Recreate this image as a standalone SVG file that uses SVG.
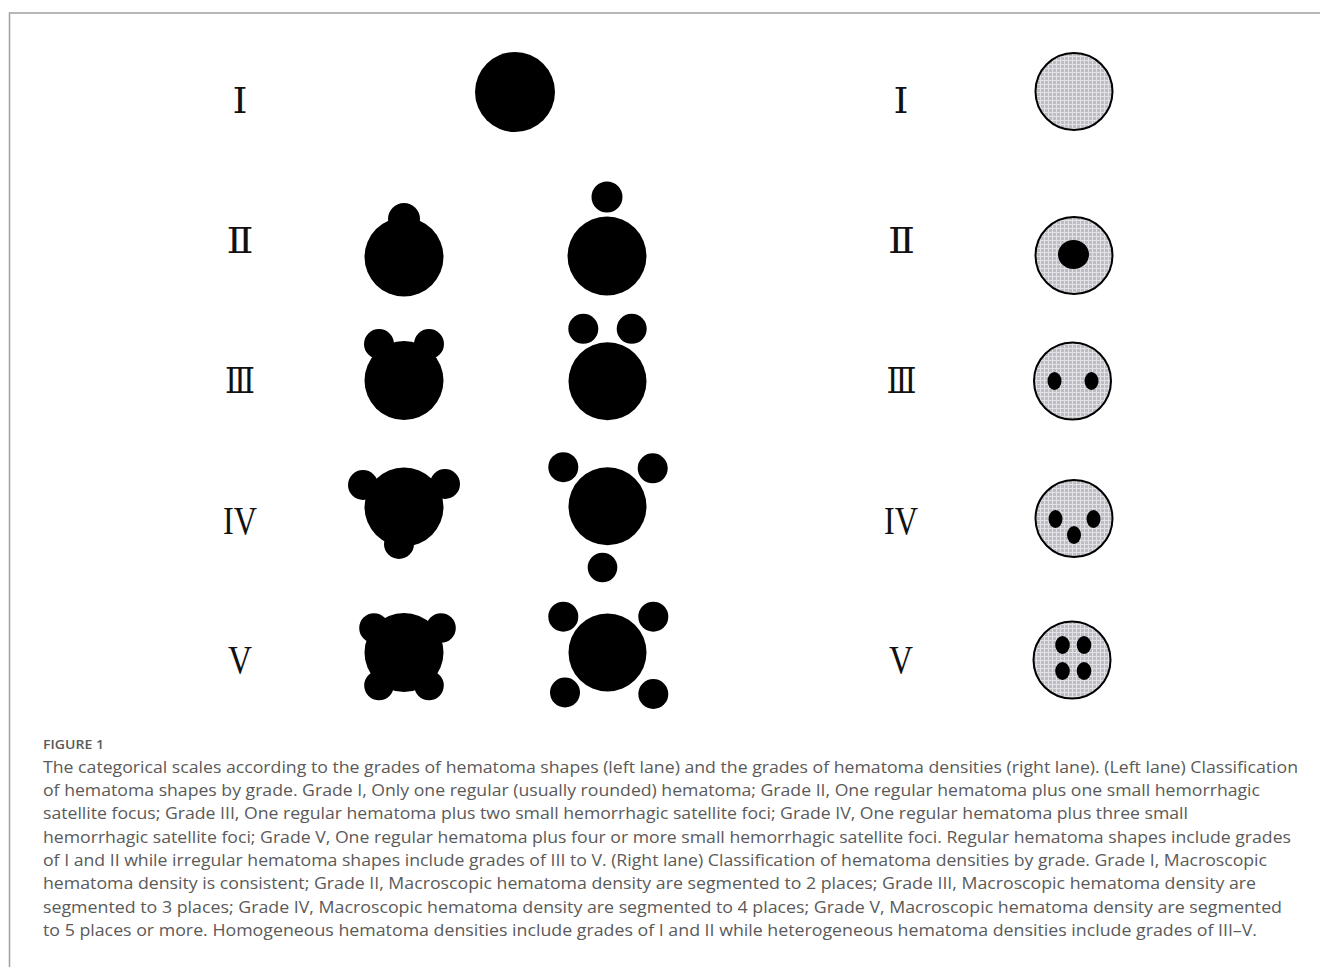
<svg xmlns="http://www.w3.org/2000/svg" width="1320" height="967" viewBox="0 0 1320 967">
  <defs>
    <pattern id="grid" width="4" height="4" patternUnits="userSpaceOnUse">
      <rect width="4" height="4" fill="#bdbdc3"/>
      <path d="M0 0.5H4M0.5 0V4" stroke="#e2e2e6" stroke-width="1"/>
    </pattern>
  </defs>
  <style>
    .num { font-family: "DejaVu Serif", "Liberation Serif", serif; font-size: 36px; fill: #111; text-anchor: middle; }
    .numL { font-family: "Liberation Serif", serif; font-size: 39px; fill: #111; text-anchor: middle; }
    .blob { fill: #000; }
    .dens { fill: url(#grid); stroke: #000; stroke-width: 2; }
    .dot { fill: #000; }
    .cap { font-family: "Open Sans", "Liberation Sans", sans-serif; font-size: 16px; fill: #5a5a5a; }
    .fig { font-family: "Open Sans", "Liberation Sans", sans-serif; font-size: 13px; font-weight: 600; fill: #5a5a5a; }
    .frame { fill: none; stroke: #a0a0a0; stroke-width: 1.5; }
  </style>
  <rect width="1320" height="967" fill="#fff"/>
  <path class="frame" d="M9.5 967V13H1320"/>

  <g id="labels-left">
    <text class="num" x="240" y="113" textLength="15" lengthAdjust="spacingAndGlyphs">Ⅰ</text>
    <text class="num" x="240" y="253" textLength="27" lengthAdjust="spacingAndGlyphs">Ⅱ</text>
    <text class="num" x="240" y="393" textLength="30" lengthAdjust="spacingAndGlyphs">Ⅲ</text>
    <text class="numL" x="240" y="534" textLength="34" lengthAdjust="spacingAndGlyphs">IV</text>
    <text class="numL" x="240" y="673" textLength="24" lengthAdjust="spacingAndGlyphs">V</text>
  </g>

  <g id="shape-grade-1">
    <circle class="blob" cx="515" cy="92" r="40"/>
  </g>
  <g id="shape-grade-2">
    <circle class="blob" cx="404" cy="257" r="39.5"/>
    <circle class="blob" cx="404" cy="219" r="16"/>
    <circle class="blob" cx="607" cy="256" r="39.5"/>
    <circle class="blob" cx="607" cy="197" r="15.5"/>
  </g>
  <g id="shape-grade-3">
    <circle class="blob" cx="404" cy="380.5" r="39.5"/>
    <circle class="blob" cx="379" cy="344" r="15"/>
    <circle class="blob" cx="429" cy="344" r="15"/>
    <circle class="blob" cx="607.5" cy="381.3" r="39"/>
    <circle class="blob" cx="583.3" cy="328.8" r="15"/>
    <circle class="blob" cx="631.7" cy="328.8" r="15"/>
  </g>
  <g id="shape-grade-4">
    <circle class="blob" cx="404" cy="507" r="39.5"/>
    <circle class="blob" cx="363" cy="485" r="15"/>
    <circle class="blob" cx="445" cy="484" r="15"/>
    <circle class="blob" cx="399" cy="544" r="15"/>
    <circle class="blob" cx="607.5" cy="506.3" r="39"/>
    <circle class="blob" cx="563.3" cy="467.2" r="15"/>
    <circle class="blob" cx="652.7" cy="468.3" r="15"/>
    <circle class="blob" cx="602.5" cy="567.5" r="14.8"/>
  </g>
  <g id="shape-grade-5">
    <circle class="blob" cx="404" cy="652.5" r="39.5"/>
    <circle class="blob" cx="374" cy="628" r="14.8"/>
    <circle class="blob" cx="441" cy="628" r="14.8"/>
    <circle class="blob" cx="379" cy="685.5" r="14.8"/>
    <circle class="blob" cx="429" cy="685.5" r="14.8"/>
    <circle class="blob" cx="607.5" cy="652.5" r="39"/>
    <circle class="blob" cx="563.3" cy="616.7" r="15"/>
    <circle class="blob" cx="653.3" cy="616.7" r="15"/>
    <circle class="blob" cx="565" cy="692.5" r="15"/>
    <circle class="blob" cx="653.3" cy="694" r="15"/>
  </g>

  <g id="labels-right">
    <text class="num" x="901" y="113" textLength="15" lengthAdjust="spacingAndGlyphs">Ⅰ</text>
    <text class="num" x="901.5" y="253" textLength="27" lengthAdjust="spacingAndGlyphs">Ⅱ</text>
    <text class="num" x="901.5" y="393" textLength="30" lengthAdjust="spacingAndGlyphs">Ⅲ</text>
    <text class="numL" x="901" y="534" textLength="34" lengthAdjust="spacingAndGlyphs">IV</text>
    <text class="numL" x="901" y="673" textLength="24" lengthAdjust="spacingAndGlyphs">V</text>
  </g>

  <g id="density-grade-1">
    <circle class="dens" cx="1074" cy="91.5" r="38.5"/>
  </g>
  <g id="density-grade-2">
    <circle class="dens" cx="1074" cy="255.5" r="38.5"/>
    <ellipse class="dot" cx="1073.5" cy="254.5" rx="15.5" ry="14.5"/>
  </g>
  <g id="density-grade-3">
    <circle class="dens" cx="1072.5" cy="381" r="38.5"/>
    <ellipse class="dot" cx="1054.5" cy="381" rx="7" ry="9"/>
    <ellipse class="dot" cx="1091.5" cy="381" rx="7" ry="9"/>
  </g>
  <g id="density-grade-4">
    <circle class="dens" cx="1074" cy="518.5" r="38.5"/>
    <ellipse class="dot" cx="1055.5" cy="519" rx="7" ry="9"/>
    <ellipse class="dot" cx="1093.5" cy="519" rx="7" ry="9"/>
    <ellipse class="dot" cx="1074" cy="535" rx="7" ry="9"/>
  </g>
  <g id="density-grade-5">
    <circle class="dens" cx="1072" cy="660" r="38.5"/>
    <ellipse class="dot" cx="1062.5" cy="645" rx="7.3" ry="9"/>
    <ellipse class="dot" cx="1084" cy="645" rx="7.3" ry="9"/>
    <ellipse class="dot" cx="1062.5" cy="671" rx="7.3" ry="9"/>
    <ellipse class="dot" cx="1084" cy="671" rx="7.3" ry="9"/>
  </g>

  <g id="caption">
    <text class="fig" x="43" y="749" textLength="61" lengthAdjust="spacingAndGlyphs">FIGURE 1</text>
    <text class="cap" x="43" y="772.7" textLength="1255" lengthAdjust="spacingAndGlyphs">The categorical scales according to the grades of hematoma shapes (left lane) and the grades of hematoma densities (right lane). (Left lane) Classification</text>
    <text class="cap" x="43" y="796" textLength="1217" lengthAdjust="spacingAndGlyphs">of hematoma shapes by grade. Grade I, Only one regular (usually rounded) hematoma; Grade II, One regular hematoma plus one small hemorrhagic</text>
    <text class="cap" x="43" y="819.3" textLength="1145" lengthAdjust="spacingAndGlyphs">satellite focus; Grade III, One regular hematoma plus two small hemorrhagic satellite foci; Grade IV, One regular hematoma plus three small</text>
    <text class="cap" x="43" y="842.7" textLength="1248" lengthAdjust="spacingAndGlyphs">hemorrhagic satellite foci; Grade V, One regular hematoma plus four or more small hemorrhagic satellite foci. Regular hematoma shapes include grades</text>
    <text class="cap" x="43" y="866" textLength="1224" lengthAdjust="spacingAndGlyphs">of I and II while irregular hematoma shapes include grades of III to V. (Right lane) Classification of hematoma densities by grade. Grade I, Macroscopic</text>
    <text class="cap" x="43" y="889.3" textLength="1213" lengthAdjust="spacingAndGlyphs">hematoma density is consistent; Grade II, Macroscopic hematoma density are segmented to 2 places; Grade III, Macroscopic hematoma density are</text>
    <text class="cap" x="43" y="912.7" textLength="1239" lengthAdjust="spacingAndGlyphs">segmented to 3 places; Grade IV, Macroscopic hematoma density are segmented to 4 places; Grade V, Macroscopic hematoma density are segmented</text>
    <text class="cap" x="43" y="936" textLength="1214" lengthAdjust="spacingAndGlyphs">to 5 places or more. Homogeneous hematoma densities include grades of I and II while heterogeneous hematoma densities include grades of III–V.</text>
  </g>
</svg>
